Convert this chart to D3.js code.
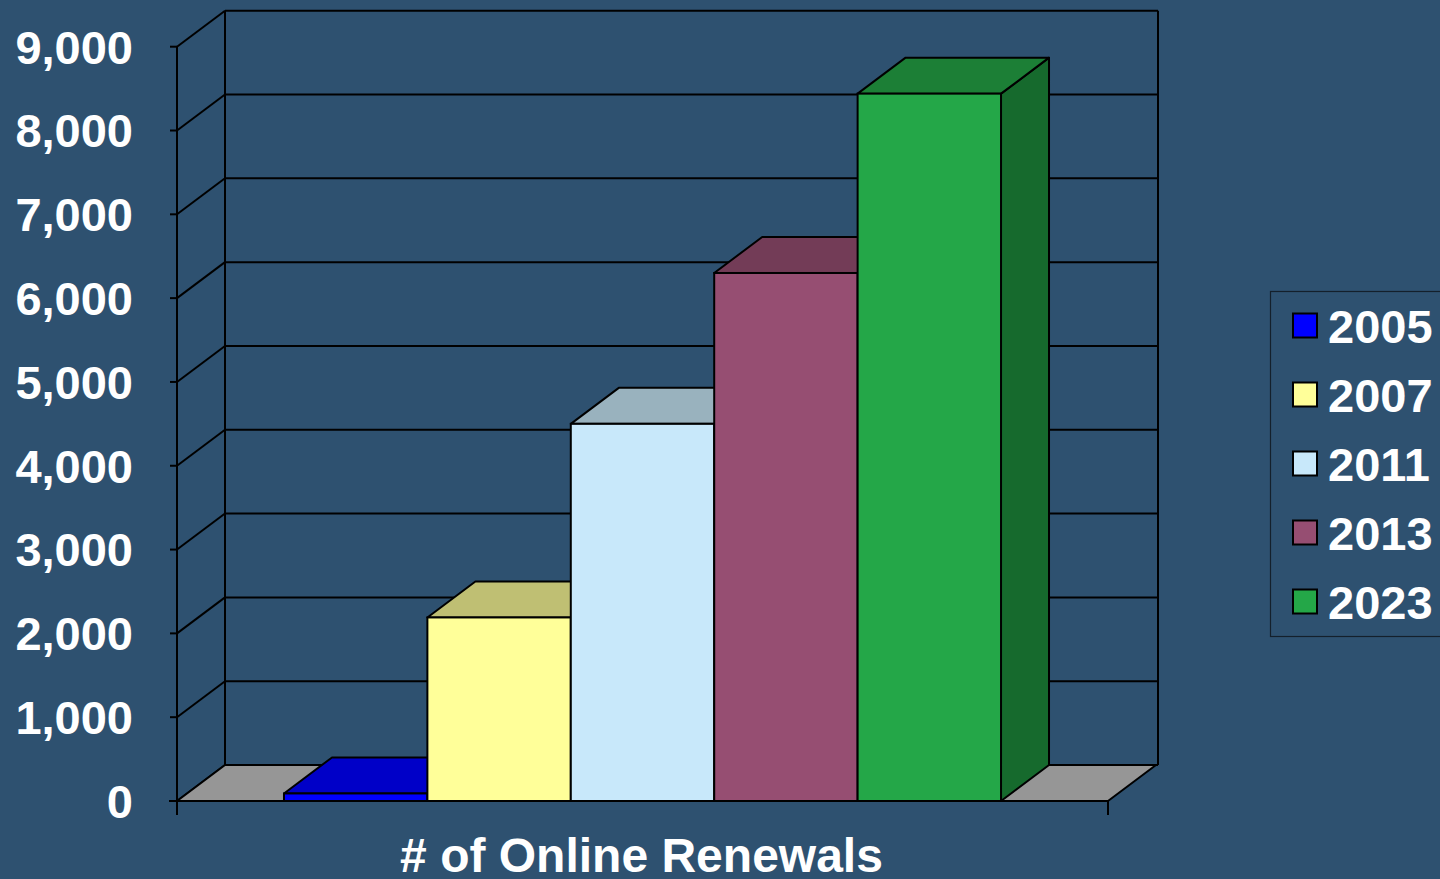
<!DOCTYPE html>
<html>
<head>
<meta charset="utf-8">
<script src="https://cdn.jsdelivr.net/npm/d3@7"></script>
<style>
  html, body { margin: 0; padding: 0; background: #2E5170; overflow: hidden; }
  svg { display: block; font-family: "Liberation Sans", Arial, sans-serif; }
</style>
</head>
<body>
<svg id="chart" width="1440" height="879"></svg>
<script>
// ---- Data ----
const categories = ["# of Online Renewals"];
const years = ["2005", "2007", "2011", "2013", "2023"];
const renewals = [90, 2190, 4500, 6300, 8440];
const yTicks = [0, 1000, 2000, 3000, 4000, 5000, 6000, 7000, 8000, 9000];

// ---- Styles ----
const frontColors = ["#0000FF", "#FFFF99", "#C8E8FA", "#964E72", "#24A748"];
const topColors   = ["#0000C8", "#BFBF73", "#99B2BE", "#733C57", "#1C7F36"];
const sideColors  = ["#00009A", "#9A9A5A", "#7A8F99", "#5A2F44", "#166A2D"];

const W = 1440, H = 879;
const svg = d3.select("#chart");
svg.append("rect").attr("width", W).attr("height", H).attr("fill", "#2E5170");

const dx = 48, dy = 36;                 // depth offset
const plotLeft = 177, plotRight = 1108; // front floor edge
const y = d3.scaleLinear().domain([0, 9000]).range([801, 46.7]);
const x = d3.scaleBand().domain(years).range([plotLeft, plotRight]).paddingInner(0).paddingOuter(0.746);

const g = svg.append("g");
const stroke = "#000";
const sw = 2;

// back wall gridlines
g.selectAll("line.grid").data(yTicks).enter().append("line")
  .attr("x1", plotLeft + dx).attr("x2", plotRight + dx + 2)
  .attr("y1", d => y(d) - dy).attr("y2", d => y(d) - dy)
  .attr("stroke", stroke).attr("stroke-width", sw);
// left wall diagonal lines
g.selectAll("line.diag").data(yTicks).enter().append("line")
  .attr("x1", plotLeft).attr("x2", plotLeft + dx)
  .attr("y1", d => y(d)).attr("y2", d => y(d) - dy)
  .attr("stroke", stroke).attr("stroke-width", sw);
// back wall verticals
[plotLeft + dx, plotRight + dx + 2].forEach(xx => {
  g.append("line").attr("x1", xx).attr("x2", xx)
    .attr("y1", y(9000) - dy).attr("y2", y(0) - dy)
    .attr("stroke", stroke).attr("stroke-width", sw);
});

// floor
const floorPts = [[plotLeft, y(0)], [plotRight, y(0)], [plotRight + dx, y(0) - dy], [plotLeft + dx, y(0) - dy]];
g.append("polygon").attr("points", floorPts.map(p => p.join(",")).join(" "))
  .attr("fill", "#969696").attr("stroke", stroke).attr("stroke-width", sw).attr("stroke-linejoin", "round");

// bars
years.forEach((yr, i) => {
  const x0 = x(yr), x1 = x(yr) + x.bandwidth();
  const yt = y(renewals[i]), yb = y(0);
  const bar = g.append("g");
  // side
  bar.append("polygon").attr("points", [[x1, yb], [x1 + dx, yb - dy], [x1 + dx, yt - dy], [x1, yt]].map(p => p.join(",")).join(" "))
    .attr("fill", sideColors[i]).attr("stroke", stroke).attr("stroke-width", sw).attr("stroke-linejoin", "round");
  // top
  bar.append("polygon").attr("points", [[x0, yt], [x1, yt], [x1 + dx, yt - dy], [x0 + dx, yt - dy]].map(p => p.join(",")).join(" "))
    .attr("fill", topColors[i]).attr("stroke", stroke).attr("stroke-width", sw).attr("stroke-linejoin", "round");
  // front
  bar.append("rect").attr("x", x0).attr("y", yt).attr("width", x1 - x0).attr("height", yb - yt)
    .attr("fill", frontColors[i]).attr("stroke", stroke).attr("stroke-width", sw);
});

// front axis
g.append("line").attr("x1", plotLeft).attr("x2", plotLeft).attr("y1", y(9000)).attr("y2", y(0) + 14)
  .attr("stroke", stroke).attr("stroke-width", sw);
g.append("line").attr("x1", plotLeft - 8).attr("x2", plotRight).attr("y1", y(0)).attr("y2", y(0))
  .attr("stroke", stroke).attr("stroke-width", sw);
g.append("line").attr("x1", plotRight).attr("x2", plotRight).attr("y1", y(0)).attr("y2", y(0) + 14)
  .attr("stroke", stroke).attr("stroke-width", sw);
g.selectAll("line.tick").data(yTicks).enter().append("line")
  .attr("x1", plotLeft - 7).attr("x2", plotLeft).attr("y1", d => y(d)).attr("y2", d => y(d))
  .attr("stroke", stroke).attr("stroke-width", sw);

// y labels
const fmt = d3.format(",");
const fs = 47;
g.selectAll("text.ylab").data(yTicks).enter().append("text")
  .attr("x", 133).attr("y", d => y(d) + fs * 0.716 / 2)
  .attr("text-anchor", "end").attr("fill", "#fff")
  .attr("font-size", fs).attr("font-weight", "bold")
  .text(d => fmt(d));

// category label
svg.append("text").attr("x", (plotLeft + plotRight) / 2 - 1).attr("y", 872)
  .attr("text-anchor", "middle").attr("fill", "#fff").attr("font-size", 48).attr("font-weight", "bold")
  .text(categories[0]);

// legend
const lg = svg.append("g");
lg.append("rect").attr("x", 1270.5).attr("y", 291.5).attr("width", 200).attr("height", 345)
  .attr("fill", "none").attr("stroke", "#14202c").attr("stroke-width", 1.2);
years.forEach((yr, i) => {
  const cy = 326 + i * 69;
  lg.append("rect").attr("x", 1293).attr("y", cy - 12.5).attr("width", 24).attr("height", 24)
    .attr("fill", frontColors[i]).attr("stroke", "#000").attr("stroke-width", 2);
  lg.append("text").attr("x", 1328).attr("y", cy + 16.5).attr("fill", "#fff")
    .attr("font-size", 47).attr("font-weight", "bold").text(yr);
});
</script>
</body>
</html>
